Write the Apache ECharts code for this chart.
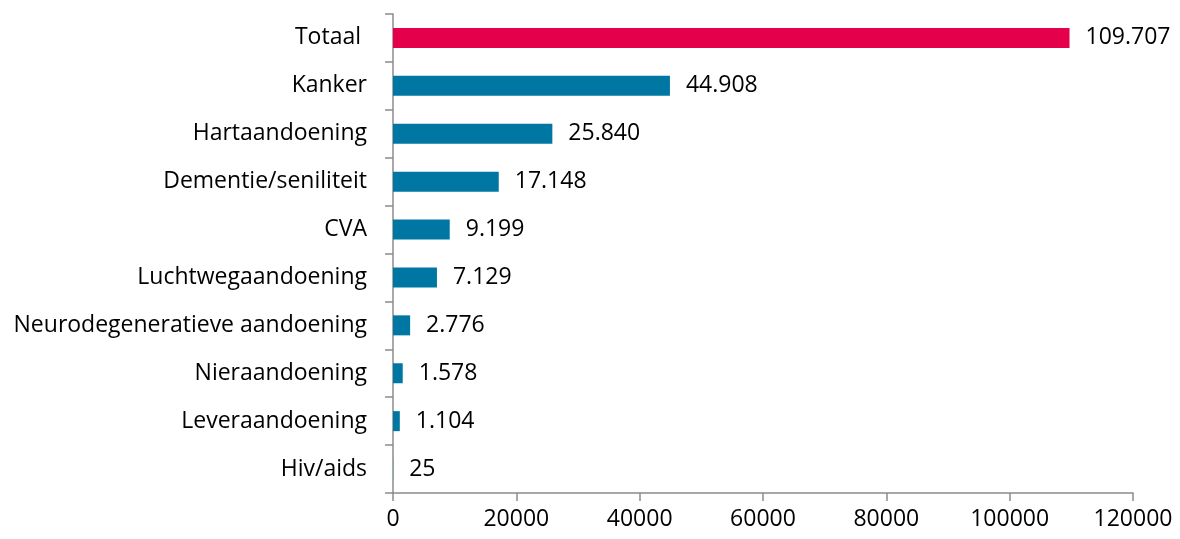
<!DOCTYPE html>
<html><head><meta charset="utf-8">
<script src="https://cdn.jsdelivr.net/npm/echarts@6/dist/echarts.min.js"></script>
<style>html,body{margin:0;padding:0;background:#fff}#c{width:1180px;height:539px}</style>
</head><body><div id="c"></div>
<script>
var categories = ["Totaal ", "Kanker", "Hartaandoening", "Dementie/seniliteit", "CVA", "Luchtwegaandoening", "Neurodegeneratieve aandoening", "Nieraandoening", "Leveraandoening", "Hiv/aids"];
var values = [109707, 44908, 25840, 17148, 9199, 7129, 2776, 1578, 1104, 25];
var xTicks = {min: 0, max: 120000, interval: 20000};

function fmt(v){ return String(v).replace(/\B(?=(\d{3})+(?!\d))/g, '.'); }

var chart = echarts.init(document.getElementById('c'));
var font = '"Open Sans", sans-serif';
chart.setOption({
  animation: false,
  grid: {left: 393, right: 47, top: 14, bottom: 46, containLabel: false},
  xAxis: {
    type: 'value', min: xTicks.min, max: xTicks.max, interval: xTicks.interval,
    splitLine: {show: false},
    axisLine: {show: true, lineStyle: {color: '#8c8c8c', width: 1.5}},
    axisTick: {show: true, length: 8, lineStyle: {color: '#8c8c8c', width: 1.5}},
    axisLabel: {color: '#000', fontSize: 23, fontFamily: font, margin: 15,
      formatter: function(v){ return String(v); }}
  },
  yAxis: {
    type: 'category', data: categories, inverse: true,
    axisLine: {show: true, lineStyle: {color: '#8c8c8c', width: 1.5}},
    axisTick: {show: true, length: 8, alignWithLabel: false, lineStyle: {color: '#8c8c8c', width: 1.5}},
    axisLabel: {color: '#000', fontSize: 23, fontFamily: font, margin: 26}
  },
  series: [{
    type: 'bar', barWidth: 20,
    data: values.map(function(v, i){ return {value: v, itemStyle: {color: i === 0 ? '#E4004B' : '#0077A2'}}; }),
    label: {show: true, position: 'right', distance: 16, color: '#000', fontSize: 23, fontFamily: font,
      formatter: function(p){ return fmt(p.value); }}
  }]
});
</script></body></html>
